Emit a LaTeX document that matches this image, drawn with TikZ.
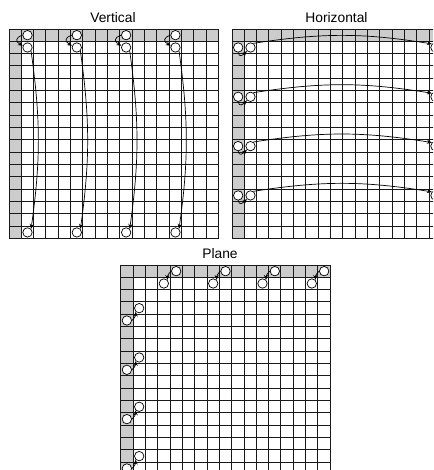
\documentclass[tikz,border=0pt]{standalone}
\usepackage{fontspec}
\setmainfont{Liberation Sans}
\usepackage{tikz}
\usetikzlibrary{arrows.meta}
\tikzset{
  cellgrid/.style={draw=black!90, line width=1pt, step=1},
  band/.style={fill=black!20},
  site/.style={circle, draw=black, fill=white, line width=0.7pt,
               minimum size=9.4pt, inner sep=0pt},
  arr/.style={-{Stealth[length=5pt, width=4pt]}, line width=0.7pt},
  title/.style={font=\fontsize{13.8}{16}\selectfont},
}

\begin{document}
\begin{tikzpicture}[x=1pt, y=1pt]
  \useasboundingbox (0,0) rectangle (433,470);
  \clip (0,0) rectangle (433,470);

  \node[title] (vtitle) at (113,452) {Vertical};
  \node[title] (htitle) at (336.5,452) {Horizontal};
  \node[title] (ptitle) at (220,216.5) {Plane};

  % vertical
  \begin{scope}[shift={(9,441)}, x=12.33pt, y=12.33pt]
    \fill[band] (0,0) rectangle (17,-1);
    \fill[band] (0,-1) rectangle (1,-17);
    \draw[cellgrid] (0,-17) grid (17,0);
    \foreach \c in {1,5,9,13} {
      \node[site] (vt\c) at (\c+0.5,-0.5) {};
      \node[site] (vm\c) at (\c+0.5,-1.5) {};
      \node[site] (vb\c) at (\c+0.5,-16.5) {};
      \draw[arr] (vt\c.west) to[out=200, in=150, looseness=2] (vm\c.160);
      \draw[arr] (vm\c.south east) to[bend left=8] (vb\c.north east);
    }
  \end{scope}

  % horizontal
  \begin{scope}[shift={(232,441)}, x=12.33pt, y=12.33pt]
    \fill[band] (0,0) rectangle (17,-1);
    \fill[band] (0,-1) rectangle (1,-17);
    \draw[cellgrid] (0,-17) grid (17,0);
    \foreach \r in {1,5,9,13} {
      \node[site] (ha\r) at (0.5,-\r-0.5) {};
      \node[site] (hb\r) at (1.5,-\r-0.5) {};
      \node[site] (hc\r) at (16.5,-\r-0.5) {};
      \draw[arr] (ha\r.south) to[out=-80, in=-135, looseness=1.6] (hb\r.south west);
      \draw[arr] (hb\r.55) to[bend left=9] (hc\r.north west);
    }
  \end{scope}

  % plane
  \begin{scope}[shift={(120.7,205)}, x=12.33pt, y=12.33pt]
    \fill[band] (0,0) rectangle (17,-1);
    \fill[band] (0,-1) rectangle (1,-17);
    \draw[cellgrid] (0,-17) grid (17,0);
    \foreach \c in {4,8,12,16} {
      \node[site] (pt\c) at (\c+0.5,-0.5) {};
      \node[site] (pb\c) at (\c-0.5,-1.5) {};
      \draw[arr] (pt\c.west) to[bend right=25] (pb\c.north east);
    }
    \foreach \r in {4,8,12,16} {
      \node[site] (pl\r) at (0.5,-\r-0.5) {};
      \node[site] (pu\r) at (1.5,-\r+0.5) {};
      \draw[arr] (pl\r.east) to[bend right=25] (pu\r.south west);
    }
  \end{scope}
\end{tikzpicture}
\end{document}
